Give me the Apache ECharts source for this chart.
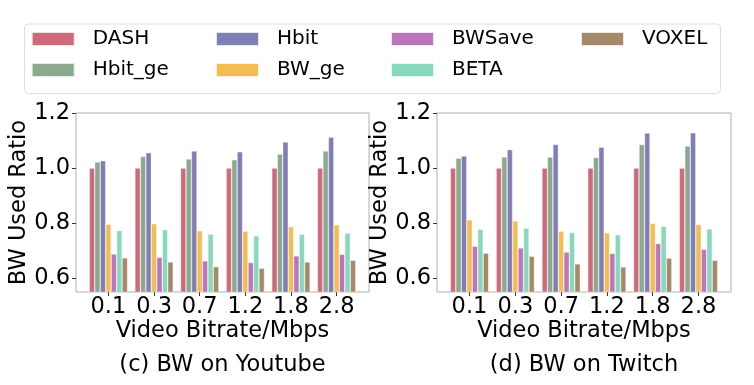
<!DOCTYPE html>
<html>
<head>
<meta charset="utf-8">
<script src="https://cdn.jsdelivr.net/npm/echarts@6/dist/echarts.min.js"></script>
<style>html,body{margin:0;padding:0;background:#fff}#c{width:754px;height:385px}</style>
</head>
<body>
<div id="c"></div>
<script>
var categories = ['0.1', '0.3', '0.7', '1.2', '1.8', '2.8'];
var seriesNames = ['DASH', 'Hbit_ge', 'Hbit', 'BW_ge', 'BWSave', 'BETA', 'VOXEL'];
var yTicks = [0.6, 0.8, 1.0, 1.2];

// (c) Youtube
var ytDASH   = [1.0, 1.0, 1.0, 1.0, 1.0, 1.0];
var ytHbitGe = [1.022, 1.042, 1.033, 1.030, 1.051, 1.062];
var ytHbit   = [1.027, 1.056, 1.062, 1.059, 1.095, 1.112];
var ytBWge   = [0.796, 0.798, 0.772, 0.771, 0.787, 0.794];
var ytBWSave = [0.688, 0.676, 0.663, 0.657, 0.681, 0.687];
var ytBETA   = [0.773, 0.776, 0.760, 0.754, 0.760, 0.764];
var ytVOXEL  = [0.674, 0.659, 0.642, 0.636, 0.659, 0.665];

// (d) Twitch
var twDASH   = [1.0, 1.0, 1.0, 1.0, 1.0, 1.0];
var twHbitGe = [1.036, 1.040, 1.040, 1.038, 1.086, 1.080];
var twHbit   = [1.044, 1.067, 1.086, 1.076, 1.127, 1.128];
var twBWge   = [0.812, 0.808, 0.771, 0.765, 0.799, 0.795];
var twBWSave = [0.716, 0.710, 0.695, 0.690, 0.726, 0.705];
var twBETA   = [0.778, 0.782, 0.766, 0.758, 0.788, 0.779];
var twVOXEL  = [0.691, 0.680, 0.652, 0.641, 0.673, 0.665];

var colors = ['#cc6b7b', '#8ca88f', '#7f7fb5', '#f2bd53', '#bd75b9', '#88d8bb', '#a6886a'];
var FONT = 'DejaVu Sans';
var FS = 22.5;

var ytData = [ytDASH, ytHbitGe, ytHbit, ytBWge, ytBWSave, ytBETA, ytVOXEL];
var twData = [twDASH, twHbitGe, twHbit, twBWge, twBWSave, twBETA, twVOXEL];

var YMIN = 0.55, YMAX = 1.2;
var TOP = 113, H = 179;

var grids = [
  {left: 76, top: TOP, width: 293, height: H, show: true, borderColor: '#b0b0b0', borderWidth: 1, backgroundColor: 'transparent'},
  {left: 85.6, top: TOP, width: 273.8, height: H},
  {left: 437, top: TOP, width: 294, height: H, show: true, borderColor: '#b0b0b0', borderWidth: 1, backgroundColor: 'transparent'},
  {left: 446.6, top: TOP, width: 274.8, height: H}
];

function frameX(g) { return {gridIndex: g, type: 'value', min: 0, max: 1, show: false}; }
function barX(g) {
  return {
    gridIndex: g, type: 'category', data: categories,
    axisLine: {show: false},
    axisTick: {show: true, alignWithLabel: true, interval: 0, length: 4, lineStyle: {color: '#333'}},
    axisLabel: {color: '#000', fontSize: FS, fontFamily: FONT, margin: 4, interval: 0, hideOverlap: false},
    name: 'Video Bitrate/Mbps', nameLocation: 'middle', nameGap: 28,
    nameTextStyle: {color: '#000', fontSize: FS, fontFamily: FONT}
  };
}
function frameY(g) {
  return {
    gridIndex: g, type: 'value', min: YMIN, max: YMAX,
    axisLine: {show: false},
    splitLine: {show: false},
    axisTick: {show: true, length: 4, customValues: yTicks, lineStyle: {color: '#333'}},
    axisLabel: {color: '#000', fontSize: FS, fontFamily: FONT, margin: 6, customValues: yTicks,
      formatter: function (v) { return v.toFixed(1); }},
    name: 'BW Used Ratio', nameLocation: 'middle', nameGap: 36,
    nameTextStyle: {color: '#000', fontSize: FS, fontFamily: FONT}
  };
}
function barY(g) { return {gridIndex: g, type: 'value', min: YMIN, max: YMAX, show: false}; }

var series = [];
function addSeries(dataArr, xi, yi) {
  for (var i = 0; i < seriesNames.length; i++) {
    series.push({
      type: 'bar', name: seriesNames[i], xAxisIndex: xi, yAxisIndex: yi,
      data: dataArr[i], barGap: '0%', barWidth: 5.47,
      itemStyle: {color: colors[i], borderColor: 'rgba(255,255,255,0.8)', borderWidth: 0.5},
      emphasis: {disabled: true}
    });
  }
}
addSeries(ytData, 1, 1);
addSeries(twData, 3, 3);

function legend(left, names) {
  return {
    left: left, top: 23, orient: 'vertical', data: names,
    icon: 'rect', itemWidth: 43, itemHeight: 14, itemGap: 9,
    selectedMode: false,
    textStyle: {color: '#000', fontSize: 20, fontFamily: FONT, lineHeight: 22, padding: [0, 0, 0, 13]}
  };
}

var option = {
  animation: false,
  color: colors,
  graphic: [{
    type: 'rect', left: 22, top: 21.5,
    shape: {width: 696, height: 69.5, r: 4},
    style: {fill: 'none', stroke: '#dddddd', lineWidth: 1}
  }],
  legend: [
    legend(25.7, ['DASH', 'Hbit_ge']),
    legend(210, ['Hbit', 'BW_ge']),
    legend(385, ['BWSave', 'BETA']),
    legend(575, ['VOXEL'])
  ],
  title: [
    {text: '(c) BW on Youtube', left: 222.5, top: 354, textAlign: 'center', padding: 0,
      textStyle: {color: '#000', fontSize: FS, fontWeight: 'normal', fontFamily: FONT}},
    {text: '(d) BW on Twitch', left: 584, top: 354, textAlign: 'center', padding: 0,
      textStyle: {color: '#000', fontSize: FS, fontWeight: 'normal', fontFamily: FONT}}
  ],
  grid: grids,
  xAxis: [frameX(0), barX(1), frameX(2), barX(3)],
  yAxis: [frameY(0), barY(1), frameY(2), barY(3)],
  series: series
};

var chart = echarts.init(document.getElementById('c'), null, {renderer: 'canvas'});
chart.setOption(option);
</script>
</body>
</html>
